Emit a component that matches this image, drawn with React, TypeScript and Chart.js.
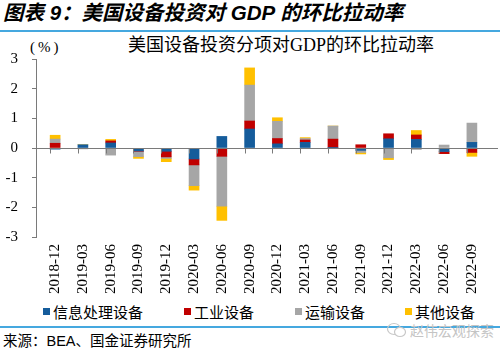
import React, { useEffect, useRef } from 'react';
import { Chart, registerables } from 'chart.js';

Chart.register(...registerables);

const CATEGORIES = [
  '2018-12', '2019-03', '2019-06', '2019-09', '2019-12', '2020-03', '2020-06', '2020-09',
  '2020-12', '2021-03', '2021-06', '2021-09', '2021-12', '2022-03', '2022-06', '2022-09',
];

const INFO_PROCESSING = [-0.04, 0.11, 0.17, -0.10, -0.11, -0.37, 0.39, 0.64, 0.14, 0.19, 0.02, -0.08, 0.31, 0.29, -0.12, 0.19];
const INDUSTRIAL = [0.16, -0.01, 0.07, -0.01, -0.19, -0.20, -0.28, 0.27, 0.18, 0.08, 0.28, 0.11, 0.17, 0.15, -0.07, -0.15];
const TRANSPORT = [0.14, -0.02, -0.24, -0.18, -0.05, -0.70, -1.68, 1.21, 0.58, 0.05, 0.44, -0.07, -0.33, -0.05, 0.10, 0.65];
const OTHER = [0.13, 0.00, 0.05, -0.06, -0.11, -0.15, -0.48, 0.58, 0.12, 0.03, 0.00, -0.05, -0.06, 0.15, 0.00, -0.13];

const SERIES_NAMES = ['信息处理设备', '工业设备', '运输设备', '其他设备'];
const COLORS = ['#155C9B', '#C00000', '#A6A6A6', '#FFC000'];
const Y_TICKS = [-3, -2, -1, 0, 1, 2, 3];

const HEADER = '图表 9：美国设备投资对 GDP 的环比拉动率';
const CHART_TITLE = '美国设备投资分项对GDP的环比拉动率';
const UNIT = '(%)';
const SOURCE = '来源：BEA、国金证券研究所';
const WATERMARK = '赵伟宏观探索';

const SERIF = '"Liberation Serif", "Noto Sans CJK SC", serif';
const CJK = '"Noto Sans CJK SC", sans-serif';
const SANS = '"Liberation Sans", "Noto Sans CJK SC", sans-serif';

const LEGEND_X = [43, 184, 295, 405];

export default function App() {
  const canvasRef = useRef<HTMLCanvasElement | null>(null);

  useEffect(() => {
    const canvas = canvasRef.current;
    if (!canvas) return;
    const series = [INFO_PROCESSING, INDUSTRIAL, TRANSPORT, OTHER];

    const zeroLine = {
      id: 'zeroLine',
      afterDatasetsDraw(chart: any) {
        const { ctx, chartArea, scales } = chart;
        const y0 = Math.round(scales.y.getPixelForValue(0)) + 0.5;
        ctx.save();
        ctx.strokeStyle = '#7A7A7A';
        ctx.lineWidth = 1;
        ctx.beginPath();
        ctx.moveTo(chartArea.left, y0);
        ctx.lineTo(chartArea.right, y0);
        CATEGORIES.forEach((_, i) => {
          const x = Math.round(scales.x.getPixelForValue(i) - 5) + 0.5;
          ctx.moveTo(x, y0);
          ctx.lineTo(x, y0 + 5);
        });
        ctx.stroke();
        ctx.restore();
      },
    };

    const chart = new Chart(canvas, {
      type: 'bar',
      data: {
        datasets: series.map((vals, k) => ({
          label: SERIES_NAMES[k],
          data: vals.map((v, i) => ({ x: i, y: v })),
          backgroundColor: COLORS[k],
          borderWidth: 0,
          barThickness: 10,
        })),
      },
      options: {
        responsive: false,
        animation: false,
        layout: { padding: { top: 0, right: 2, left: 0, bottom: 0 } },
        plugins: {
          legend: { display: false },
          title: { display: false },
          tooltip: { enabled: false },
        },
        scales: {
          x: {
            type: 'linear',
            stacked: true,
            min: -0.169,
            max: 15.42,
            grid: { display: false, drawTicks: false },
            border: { display: false },
            afterBuildTicks: (s: any) => {
              s.ticks = CATEGORIES.map((_, i) => ({ value: i }));
            },
            afterFit: (s: any) => {
              s.height = 58;
            },
            ticks: {
              autoSkip: false,
              minRotation: 90,
              maxRotation: 90,
              padding: 7,
              color: '#000',
              font: { family: SERIF, size: 15 },
              callback: (v: any) => CATEGORIES[Math.round(Number(v))] ?? '',
            },
          },
          y: {
            stacked: true,
            min: -3,
            max: 3,
            afterBuildTicks: (s: any) => {
              s.ticks = Y_TICKS.map((v) => ({ value: v }));
            },
            afterFit: (s: any) => {
              s.width = 36;
            },
            grid: { drawOnChartArea: false, drawTicks: true, tickLength: 4, color: '#7A7A7A' },
            border: { display: true, color: '#7A7A7A', width: 1 },
            ticks: {
              padding: 14,
              color: '#000',
              font: { family: SERIF, size: 15 },
              callback: (v: any) => String(v),
            },
          },
        },
      },
      plugins: [zeroLine],
    } as any);

    return () => chart.destroy();
  }, []);

  return (
    <div
      style={{
        position: 'fixed',
        left: 0,
        top: 0,
        width: 500,
        height: 353,
        background: '#fff',
        overflow: 'hidden',
      }}
    >
      <div
        style={{
          position: 'absolute',
          left: 3,
          top: 1,
          fontFamily: SANS,
          fontSize: 20.5,
          fontWeight: 'bold',
          fontStyle: 'italic',
          lineHeight: '24px',
          color: '#000',
          whiteSpace: 'nowrap',
        }}
      >
        {HEADER}
      </div>
      <div style={{ position: 'absolute', left: 0, top: 30, width: 500, height: 2, background: '#45A8DF' }} />
      <div
        style={{
          position: 'absolute',
          left: 128,
          top: 35,
          fontFamily: SERIF,
          fontSize: 18,
          lineHeight: '20px',
          color: '#000',
          whiteSpace: 'nowrap',
        }}
      >
        {CHART_TITLE}
      </div>
      <div
        style={{
          position: 'absolute',
          left: 30,
          top: 38,
          fontFamily: SERIF,
          fontSize: 15,
          letterSpacing: '3px',
          lineHeight: '18px',
          color: '#000',
          whiteSpace: 'nowrap',
        }}
      >
        {UNIT}
      </div>
      <canvas
        ref={canvasRef}
        width={500}
        height={259}
        style={{ position: 'absolute', left: 0, top: 36, width: 500, height: 259 }}
      />
      {SERIES_NAMES.map((name, k) => (
        <div
          key={name}
          style={{
            position: 'absolute',
            left: LEGEND_X[k],
            top: 301,
            height: 20,
            display: 'flex',
            alignItems: 'center',
            fontFamily: CJK,
            fontSize: 15,
            color: '#000',
            whiteSpace: 'nowrap',
          }}
        >
          <span style={{ display: 'inline-block', width: 7, height: 7, background: COLORS[k], marginRight: 3 }} />
          <span>{name}</span>
        </div>
      ))}
      <div style={{ position: 'absolute', left: 0, top: 326, width: 500, height: 2, background: '#45A8DF' }} />
      <div
        style={{
          position: 'absolute',
          left: 3,
          top: 332,
          fontFamily: SANS,
          fontSize: 14.5,
          lineHeight: '18px',
          color: '#000',
          whiteSpace: 'nowrap',
        }}
      >
        {SOURCE}
      </div>
      <svg
        width={22}
        height={16}
        style={{ position: 'absolute', left: 386, top: 322 }}
      >
        <ellipse cx={8} cy={7} rx={6.5} ry={5.5} fill="none" stroke="#C8C8C8" strokeWidth={1.2} />
        <ellipse cx={14} cy={10} rx={5.5} ry={4.5} fill="#fff" stroke="#C8C8C8" strokeWidth={1.2} />
      </svg>
      <div
        style={{
          position: 'absolute',
          left: 410,
          top: 321,
          fontFamily: CJK,
          fontSize: 14,
          lineHeight: '18px',
          color: '#C4C4C4',
          whiteSpace: 'nowrap',
        }}
      >
        {WATERMARK}
      </div>
    </div>
  );
}
